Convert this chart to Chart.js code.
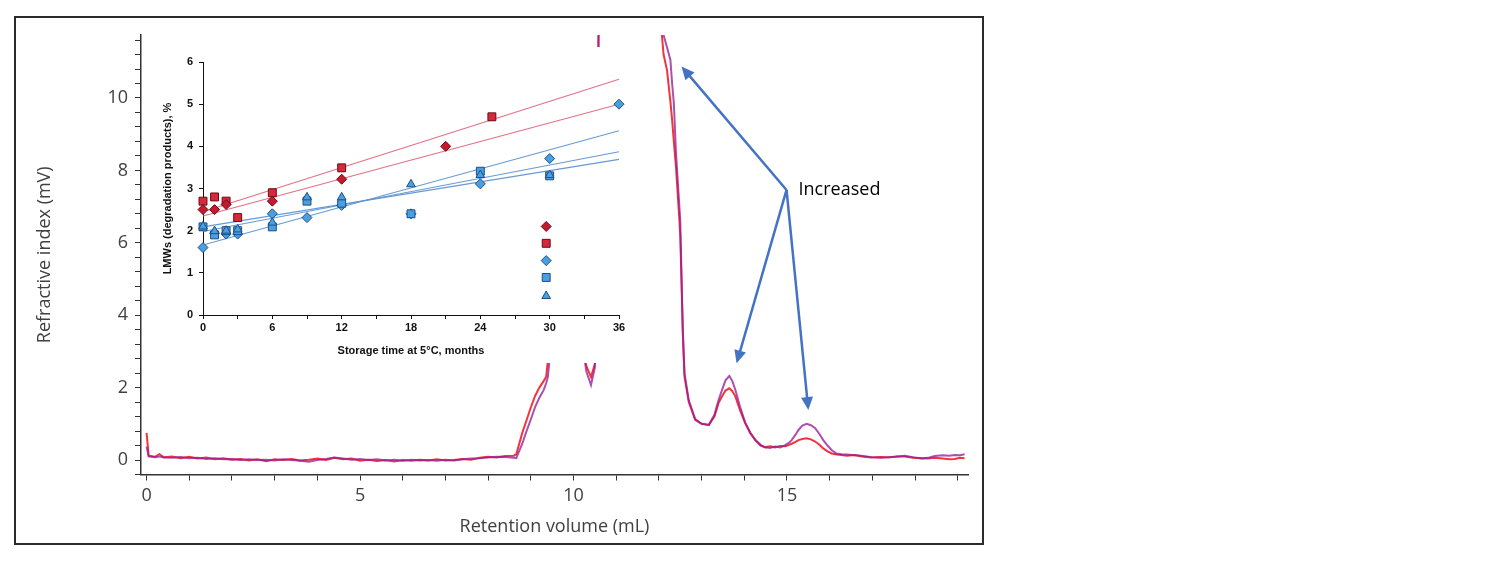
<!DOCTYPE html>
<html>
<head>
<meta charset="utf-8">
<script src="https://cdn.jsdelivr.net/npm/chart.js@4.4.1/dist/chart.umd.min.js"></script>
<style>
  html, body { margin: 0; padding: 0; background: #fff; }
  #page { position: relative; width: 1500px; height: 562px; overflow: hidden; }
  #mainChart { position: absolute; left: 0; top: 0; }
  #inset { position: absolute; left: 150px; top: 47px; background: #fff; }
  #frame { position: absolute; left: 14px; top: 16px; width: 970px; height: 529px;
           box-sizing: border-box; border: 2px solid #2b2b2b; pointer-events: none; }
</style>
</head>
<body>
<div id="page">
  <canvas id="mainChart" width="1500" height="562"></canvas>
  <canvas id="inset" width="485" height="316"></canvas>
  <div id="frame"></div>
</div>
<script>
// ---- main chromatogram (retention volume, mL -> refractive index, mV)
const volume = [0, 0.05, 0.2, 0.3, 0.4, 0.6, 0.8, 1.0, 1.2, 1.4, 1.6, 1.8, 2.0, 2.2, 2.4, 2.6, 2.8, 3.0, 3.2, 3.4, 3.6, 3.8,
  4.0, 4.2, 4.4, 4.6, 4.8, 5.0, 5.2, 5.4, 5.6, 5.8, 6.0, 6.2, 6.4, 6.6, 6.8, 7.0, 7.2, 7.4, 7.6, 7.8, 8.0, 8.2, 8.4, 8.6,
  8.66, 8.8, 8.9, 9.0, 9.1, 9.2, 9.3, 9.36, 9.4, 9.45, 9.6, 9.8, 10.0, 10.2, 10.3, 10.41, 10.5, 10.55, 10.6, 11.0, 11.5,
  11.9, 12.0, 12.07, 12.11, 12.19, 12.27, 12.31, 12.35, 12.4, 12.48, 12.5, 12.53, 12.56, 12.6, 12.7, 12.85, 13.0, 13.17,
  13.3, 13.4, 13.48, 13.56, 13.65, 13.72, 13.79, 13.9, 14.02, 14.14, 14.26, 14.38, 14.49, 14.6, 14.72, 14.84, 14.96,
  15.05, 15.11, 15.2, 15.27, 15.36, 15.46, 15.56, 15.66, 15.76, 15.85, 15.95, 16.05, 16.16, 16.28, 16.4, 16.59, 16.75,
  16.98, 17.2, 17.37, 17.55, 17.76, 17.95, 18.15, 18.3, 18.46, 18.65, 18.8, 18.93, 19.05, 19.16];

const riInitial = [0.75, 0.12, 0.09, 0.16, 0.08, 0.10, 0.05, 0.09, 0.04, 0.07, 0.02, 0.05, 0.01, 0.03, -0.01, 0.02, -0.03, 0.02, 0.00, 0.03, -0.01, 0.01,
  0.04, 0.00, 0.06, 0.02, 0.04, -0.02, 0.01, -0.03, 0.00, -0.04, 0.00, -0.02, 0.01, -0.01, 0.02, -0.01, 0.00, 0.03, 0.01, 0.06, 0.09, 0.07, 0.11, 0.12,
  0.16, 0.75, 1.1, 1.45, 1.77, 2.0, 2.18, 2.3, 2.75, 3.6, 5.5, 6.5, 5.6, 3.3, 2.6, 2.29, 2.65, 6.0, 14.0, 25.0, 28.0,
  16.5, 12.6, 11.74, 11.2, 10.77, 9.9, 9.39, 8.8, 8.1, 6.63, 6.2, 4.9, 3.5, 2.3, 1.6, 1.11, 1.0, 0.97,
  1.2, 1.58, 1.76, 1.92, 1.98, 1.9, 1.76, 1.38, 1.02, 0.74, 0.55, 0.42, 0.35, 0.38, 0.35, 0.39, 0.38,
  0.42, 0.45, 0.50, 0.55, 0.58, 0.60, 0.57, 0.51, 0.42, 0.32, 0.24, 0.18, 0.15, 0.14, 0.12, 0.14, 0.10,
  0.07, 0.08, 0.07, 0.10, 0.10, 0.06, 0.05, 0.04, 0.06, 0.04, 0.02, 0.03, 0.06, 0.05];

const riStored = [0.37, 0.10, 0.08, 0.10, 0.07, 0.06, 0.08, 0.05, 0.06, 0.03, 0.05, 0.02, 0.03, 0.00, 0.02, 0.00, 0.01, -0.01, 0.02, 0.00, -0.02, -0.05,
  0.00, 0.03, 0.07, 0.04, 0.01, 0.03, 0.00, 0.02, -0.01, 0.01, -0.02, 0.01, -0.01, 0.00, -0.02, 0.01, -0.01, 0.02, 0.04, 0.05, 0.07, 0.09, 0.08, 0.06,
  0.05, 0.45, 0.8, 1.12, 1.46, 1.72, 1.93, 2.12, 2.3, 2.9, 4.8, 6.2, 5.4, 3.3, 2.45, 2.07, 2.55, 5.6, 14.0, 26.0, 29.0,
  17.5, 13.2, 12.4, 11.74, 11.4, 11.05, 10.4, 9.86, 8.49, 7.0, 6.63, 5.1, 3.6, 2.4, 1.65, 1.13, 1.0, 0.97,
  1.25, 1.66, 1.94, 2.2, 2.32, 2.18, 1.94, 1.48, 1.04, 0.76, 0.55, 0.40, 0.35, 0.33, 0.37, 0.35, 0.41,
  0.48, 0.55, 0.70, 0.83, 0.95, 1.00, 0.96, 0.88, 0.72, 0.55, 0.40, 0.27, 0.18, 0.16, 0.15, 0.13, 0.12,
  0.08, 0.06, 0.08, 0.09, 0.12, 0.08, 0.04, 0.06, 0.11, 0.13, 0.12, 0.14, 0.13, 0.16];

// callout arrows, in data units (mL, mV)
const calloutFrom = [14.99, 7.46];
const calloutTips = [[12.53, 10.87], [13.82, 2.67], [15.5, 1.38]];

// ---- inset: LMWs vs storage time
const redDiamondMonths = [0, 1, 2, 6, 12, 21];
const redDiamondPct = [2.5, 2.5, 2.62, 2.7, 3.22, 4.0];
const redSquareMonths = [0, 1, 2, 3, 6, 12, 25];
const redSquarePct = [2.7, 2.8, 2.7, 2.31, 2.9, 3.49, 4.7];
const blueDiamondMonths = [0, 1, 2, 3, 6, 9, 12, 18, 24, 30, 36];
const blueDiamondPct = [1.6, 1.94, 1.92, 1.92, 2.4, 2.31, 2.6, 2.4, 3.11, 3.71, 5.0];
const blueSquareMonths = [0, 1, 2, 3, 6, 9, 12, 18, 24, 30];
const blueSquarePct = [2.09, 1.9, 2.0, 2.0, 2.09, 2.7, 2.65, 2.4, 3.41, 3.3];
const blueTriangleMonths = [0, 1, 2, 3, 6, 9, 12, 18, 24, 30];
const blueTrianglePct = [2.1, 1.99, 2.0, 2.03, 2.19, 2.79, 2.79, 3.1, 3.32, 3.32];

const trendMonths = [0, 36];
const trendRedUpper = [2.45, 5.59];
const trendRedLower = [2.35, 5.0];
const trendBlueA = [1.66, 4.37];
const trendBlueB = [1.98, 3.87];
const trendBlueC = [2.09, 3.69];

// unlabeled key markers in the inset
const keyMonth = 29.7;
const keyPct = [2.1, 1.7, 1.29, 0.89, 0.45];

const pts = (xs, ys) => xs.map((x, i) => ({ x: x, y: ys[i] }));

// multiples check that survives float steps like 1.2000000000000002
const isMultiple = (v, step) => Math.abs(v / step - Math.round(v / step)) < 1e-6;

const calloutPlugin = {
  id: "callout",
  afterDatasetsDraw(chart) {
    const { ctx, scales: { x, y } } = chart;
    const ox = x.getPixelForValue(calloutFrom[0]);
    const oy = y.getPixelForValue(calloutFrom[1]);
    ctx.save();
    ctx.strokeStyle = "#4472c4";
    ctx.fillStyle = "#4472c4";
    ctx.lineWidth = 2.5;
    calloutTips.forEach(([tx, ty]) => {
      const px = x.getPixelForValue(tx);
      const py = y.getPixelForValue(ty);
      const a = Math.atan2(py - oy, px - ox);
      const head = 13, half = 6;
      ctx.beginPath();
      ctx.moveTo(ox, oy);
      ctx.lineTo(px - Math.cos(a) * head * 0.8, py - Math.sin(a) * head * 0.8);
      ctx.stroke();
      ctx.beginPath();
      ctx.moveTo(px, py);
      ctx.lineTo(px - head * Math.cos(a) + half * Math.sin(a), py - head * Math.sin(a) - half * Math.cos(a));
      ctx.lineTo(px - head * Math.cos(a) - half * Math.sin(a), py - head * Math.sin(a) + half * Math.cos(a));
      ctx.closePath();
      ctx.fill();
    });
    ctx.fillStyle = "#000";
    ctx.font = '18px "Open Sans"';
    ctx.textBaseline = "middle";
    ctx.fillText("Increased", ox + 12, oy);
    ctx.restore();
  }
};

new Chart(document.getElementById("mainChart"), {
  type: "line",
  data: {
    datasets: [
      {
        label: "Stored",
        data: pts(volume, riStored),
        borderColor: "rgba(150,30,150,0.78)",
        borderWidth: 2,
        pointRadius: 0,
        tension: 0
      },
      {
        label: "Initial",
        data: pts(volume, riInitial),
        borderColor: "#f5333a",
        borderWidth: 2,
        pointRadius: 0,
        tension: 0
      }
    ]
  },
  options: {
    responsive: false,
    animation: false,
    devicePixelRatio: 1,
    layout: { padding: { left: 0, top: 35, right: 532, bottom: 0 } },
    plugins: { legend: { display: false }, tooltip: { enabled: false } },
    scales: {
      x: {
        type: "linear",
        min: -0.13,
        max: 19.24,
        afterFit: (s) => { s.height = 87.5; },
        ticks: {
          stepSize: 1,
          includeBounds: false,
          autoSkip: false,
          maxRotation: 0,
          padding: 5,
          color: "#404040",
          font: { family: "Open Sans", size: 18 },
          callback: (v) => (isMultiple(v, 5) ? Math.round(v) : "")
        },
        grid: { drawOnChartArea: false, drawTicks: true, tickLength: 6, color: "#333" },
        border: { display: true, color: "#333", width: 1.5 },
        title: {
          display: true,
          text: "Retention volume (mL)",
          color: "#404040",
          font: { family: "Open Sans", size: 18 },
          padding: { bottom: 24 }
        }
      },
      y: {
        min: -0.4,
        max: 11.74,
        afterFit: (s) => { s.width = 141; },
        ticks: {
          stepSize: 0.4,
          includeBounds: false,
          autoSkip: false,
          padding: 7,
          color: "#404040",
          font: { family: "Open Sans", size: 18 },
          callback: (v) => (isMultiple(v, 2) && v >= 0 ? Math.round(v) : "")
        },
        grid: { drawOnChartArea: false, drawTicks: true, tickLength: 6, color: "#333" },
        border: { display: true, color: "#333", width: 1.5 },
        title: {
          display: true,
          text: "Refractive index (mV)",
          color: "#404040",
          font: { family: "Open Sans", size: 18 },
          padding: { top: 34 }
        }
      }
    }
  },
  plugins: [calloutPlugin]
});

const redFill = "#d42a3c", redEdge = "#6b0a14";
const blueFill = "#4a9fe0", blueEdge = "#1d4f86";

function marks(xs, ys, style, fill, edge, radius) {
  return {
    type: "scatter",
    data: pts(xs, ys),
    pointStyle: style,
    pointRadius: radius,
    backgroundColor: fill,
    borderColor: edge,
    borderWidth: 1,
    clip: false
  };
}

function trend(ys, color) {
  return {
    type: "line",
    data: pts(trendMonths, ys),
    borderColor: color,
    borderWidth: 1.1,
    pointRadius: 0,
    tension: 0,
    clip: false
  };
}

const trendRed = "rgba(225,105,125,0.95)";
const trendBlue = "rgba(95,150,210,0.95)";
const keyStyles = [
  ["rectRot", "#c41a30", redEdge, 5],
  ["rect", redFill, redEdge, 5.6],
  ["rectRot", blueFill, blueEdge, 5],
  ["rect", blueFill, blueEdge, 5.6],
  ["triangle", blueFill, blueEdge, 5]
];

new Chart(document.getElementById("inset"), {
  type: "scatter",
  data: {
    datasets: [
      ...keyStyles.map((k, i) => marks([keyMonth], [keyPct[i]], k[0], k[1], k[2], k[3])),
      marks(redDiamondMonths, redDiamondPct, "rectRot", "#c41a30", redEdge, 5),
      marks(redSquareMonths, redSquarePct, "rect", redFill, redEdge, 5.6),
      marks(blueTriangleMonths, blueTrianglePct, "triangle", blueFill, blueEdge, 5),
      marks(blueSquareMonths, blueSquarePct, "rect", blueFill, blueEdge, 5.6),
      marks(blueDiamondMonths, blueDiamondPct, "rectRot", blueFill, blueEdge, 5),
      trend(trendRedUpper, trendRed),
      trend(trendRedLower, trendRed),
      trend(trendBlueA, trendBlue),
      trend(trendBlueB, trendBlue),
      trend(trendBlueC, trendBlue)
    ]
  },
  options: {
    responsive: false,
    animation: false,
    devicePixelRatio: 1,
    layout: { padding: { left: 0, top: 15, right: 16, bottom: 0 } },
    plugins: { legend: { display: false }, tooltip: { enabled: false } },
    scales: {
      x: {
        type: "linear",
        min: 0,
        max: 36,
        afterFit: (s) => { s.height = 48; },
        ticks: {
          stepSize: 3,
          autoSkip: false,
          maxRotation: 0,
          padding: 2,
          color: "#111",
          font: { family: "Liberation Sans", size: 11, weight: "bold" },
          callback: (v) => (isMultiple(v, 6) ? v : "")
        },
        grid: { drawOnChartArea: false, drawTicks: true, tickLength: 4, color: "#111" },
        border: { display: true, color: "#111", width: 1 },
        title: {
          display: true,
          text: "Storage time at 5°C, months",
          color: "#111",
          font: { family: "Liberation Sans", size: 11, weight: "bold" },
          padding: { bottom: 5 }
        }
      },
      y: {
        min: 0,
        max: 6,
        afterFit: (s) => { s.width = 53; },
        ticks: {
          stepSize: 1,
          padding: 6,
          color: "#111",
          font: { family: "Liberation Sans", size: 11, weight: "bold" }
        },
        grid: { drawOnChartArea: false, drawTicks: true, tickLength: 4, color: "#111" },
        border: { display: true, color: "#111", width: 1 },
        title: {
          display: true,
          text: "LMWs (degradation products), %",
          color: "#111",
          font: { family: "Liberation Sans", size: 11, weight: "bold" },
          padding: { top: 11 }
        }
      }
    }
  }
});
</script>
</body>
</html>
